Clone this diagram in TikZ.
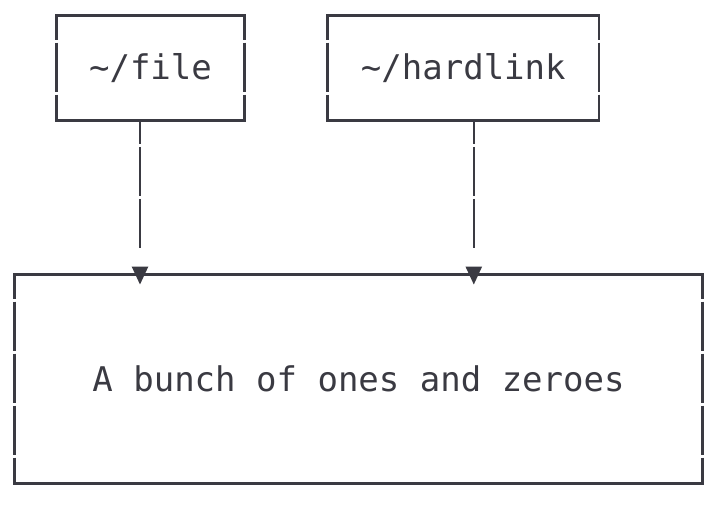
\documentclass[tikz,border=0pt]{standalone}
\usepackage{fontspec}
\setmonofont{DejaVu Sans Mono}
\usepackage{xcolor}
\usetikzlibrary{arrows.meta,positioning,calc}
\definecolor{ink}{HTML}{3A3A42}

\begin{document}
\begin{tikzpicture}[x=0.5pt, y=-0.5pt,
  font=\ttfamily\fontsize{17}{20}\selectfont, node distance=41.5pt,
  box/.style={inner sep=0pt, text=ink, minimum height=52pt},
  frame/.style={ink, line width=1.2pt, line cap=rect},
  side/.style={ink, line width=1.2pt, dash pattern=on 24.5pt off 1.5pt, dash phase=12.5pt},
  link/.style={ink, line width=1.2pt, -{Triangle[length=9pt, width=8pt]},
    dash pattern=on 11.75pt off 1.5pt on 24.5pt off 1.5pt on 24.5pt off 60pt}]
  \useasboundingbox (0,0) rectangle (726,508);
  % the two names
  \node[box, minimum width=93.5pt] (file) at (150.5,68) {\textasciitilde/file};
  \node[box, minimum width=135.5pt, right=of file] (hardlink) {\textasciitilde/hardlink};
  % the data on disk
  \node[box, minimum width=343.5pt, minimum height=104pt] (bits) at (358.5,379) {A bunch of ones and zeroes};
  % frames: solid rows, broken columns
  \foreach \b in {file,hardlink,bits} {
    \draw[frame] (\b.north west) -- (\b.north east);
    \draw[frame] (\b.south west) -- (\b.south east);
    \draw[side] (\b.north west) -- (\b.south west);
    \draw[side] (\b.north east) -- (\b.south east);
  }
  % links
  \coordinate (fileout) at ($(file.south)+(-10.5,0)$);
  \coordinate (linkout) at ($(hardlink.south)+(10.5,0)$);
  \draw[link] (fileout) -- ($(fileout |- bits.north)+(0,10)$);
  \draw[link] (linkout) -- ($(linkout |- bits.north)+(0,10)$);
\end{tikzpicture}
\end{document}
